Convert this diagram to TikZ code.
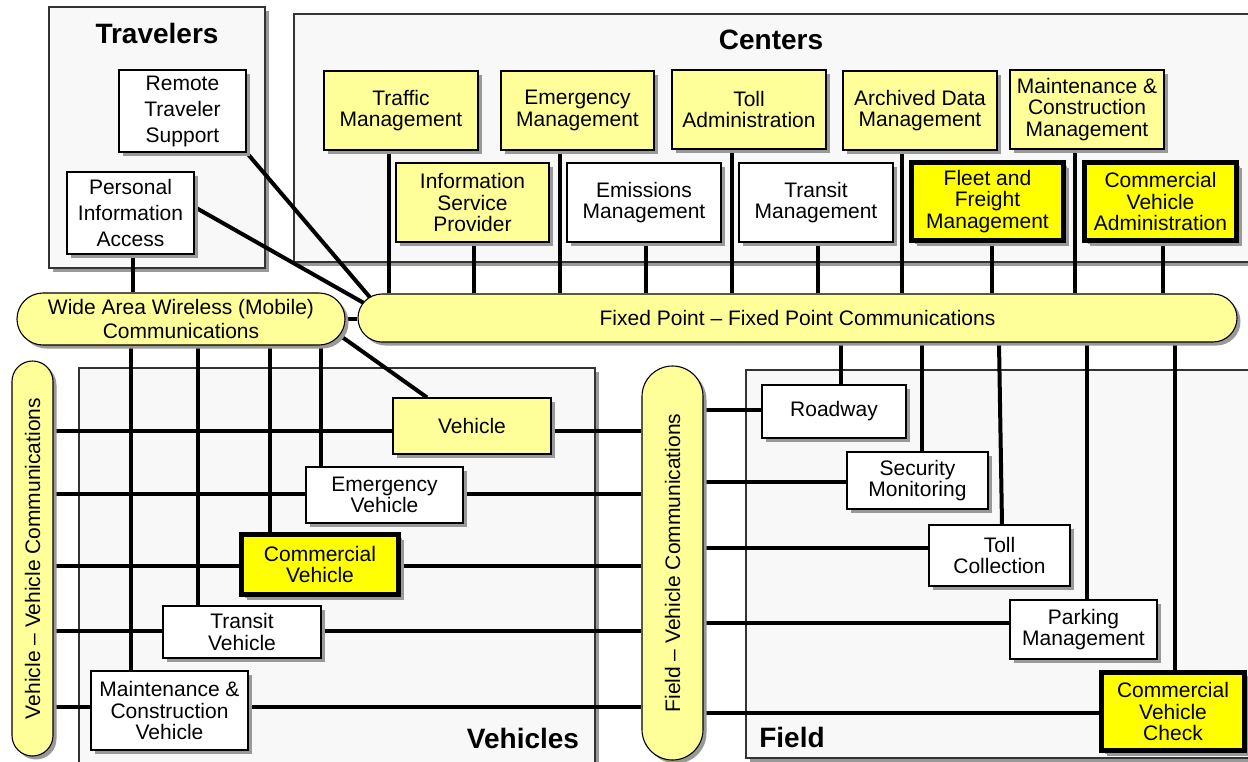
\documentclass[tikz,border=0pt]{standalone}
\usepackage{fontspec}
\setmainfont{Liberation Sans}
\usepackage{graphicx}
\usetikzlibrary{calc}
\definecolor{paley}{HTML}{FFFF99}
\definecolor{brighty}{HTML}{FFFF00}
\definecolor{grpfill}{HTML}{F8F8F8}
\definecolor{shd}{HTML}{999999}
\pgfdeclarelayer{grp}
\pgfdeclarelayer{lines}
\pgfsetlayers{grp,lines,main}
\tikzset{
  shadowed/.style={preaction={fill=shd, transform canvas={xshift=#1, yshift=-#1}}},
  shadowed/.default=3.5pt,
  grpbox/.style={draw=black!80, line width=1.1pt, fill=grpfill, shadowed=4pt},
  box/.style={rectangle, draw=black, line width=1.1pt, fill=white, align=center, inner sep=0pt, shadowed, font=\fontsize{21}{21.5}\selectfont},
  tbox/.style={box, font=\fontsize{21}{26}\selectfont},
  ybox/.style={box, fill=paley},
  hbox/.style={box, fill=brighty, line width=5pt, shadowed=5.5pt},
  pill/.style={rectangle, draw=black, line width=1.1pt, fill=paley, rounded corners=#1, align=center, inner sep=0pt, shadowed, font=\fontsize{21}{24.5}\selectfont},
  conn/.style={line width=4pt},
  grptitle/.style={font=\fontsize{28}{30}\selectfont\bfseries, inner sep=0pt},
}
\begin{document}
\begin{tikzpicture}[x=1pt,y=-1pt]
\useasboundingbox (0,0) rectangle (1248,761);
\clip (0,0) rectangle (1248,761);

% group boxes
\begin{pgfonlayer}{grp}
\fill[white] (0,0) rectangle (1248,761);
\path[grpbox] (49,7) rectangle (265,268);
\path[grpbox] (294,14) rectangle (1262,262);
\path[grpbox] (79,368) rectangle (595,790);
\path[grpbox] (746,370) rectangle (1262,758);
\end{pgfonlayer}

\node[grptitle] (ttrav) at (157,33) {Travelers};
\node[grptitle] (tcent) at (771,40) {Centers};
\node[grptitle] (tveh) at (523,738) {Vehicles};
\node[grptitle] (tfield) at (792,737) {Field};

% travelers
\node[tbox, minimum width=127pt, minimum height=82pt] (rts) at (182.5,111) {Remote\\Traveler\\Support};
\node[tbox, minimum width=127pt, minimum height=82pt] (pia) at (130.5,213) {Personal\\Information\\Access};

% centers row 1
\node[ybox, minimum width=154pt, minimum height=79pt] (traffic) at (401,110.5) {Traffic\\Management};
\node[ybox, minimum width=153pt, minimum height=79pt] (emerg) at (577.5,110.5) {Emergency\\Management};
\node[ybox, minimum width=154pt, minimum height=79pt] (tolla) at (749,109.5) {Toll\\Administration};
\node[ybox, minimum width=154pt, minimum height=79pt] (arch) at (920,110.5) {Archived Data\\Management};
\node[ybox, minimum width=154pt, minimum height=79pt] (mcm) at (1087,109.5) {Maintenance \&\\Construction\\Management};
% centers row 2
\node[ybox, minimum width=153pt, minimum height=79pt] (isp) at (472.5,202.5) {Information\\Service\\Provider};
\node[box, minimum width=154pt, minimum height=79pt] (emis) at (644,202.5) {Emissions\\Management};
\node[box, minimum width=154pt, minimum height=79pt] (trm) at (816,202.5) {Transit\\Management};
\node[hbox, minimum width=152pt, minimum height=78pt] (ffm) at (987.5,201.5) {Fleet and\\Freight\\Management};
\node[hbox, minimum width=152pt, minimum height=78pt] (cva) at (1160.5,201.5) {Commercial\\Vehicle\\Administration};

% buses
\node[pill=26pt, minimum width=328pt, minimum height=52pt] (waw) at (181,319) {Wide Area Wireless (Mobile)\\Communications};
\node[pill=24pt, minimum width=879pt, minimum height=48pt] (fp) at (797.5,318) {Fixed Point – Fixed Point Communications};
\node[pill=20.5pt, minimum width=41pt, minimum height=395pt] (vv) at (32.5,558.5) {\rotatebox{90}{Vehicle – Vehicle Communications}};
\node[pill=30.5pt, minimum width=61pt, minimum height=394pt] (fv) at (672.5,563) {\rotatebox{90}{Field – Vehicle Communications}};

% vehicles
\node[ybox, minimum width=158pt, minimum height=56pt] (veh) at (472,426) {Vehicle};
\node[box, minimum width=157pt, minimum height=56pt] (ev) at (384.5,495) {Emergency\\Vehicle};
\node[hbox, minimum width=157pt, minimum height=60pt] (cv) at (320,564.5) {Commercial\\Vehicle};
\node[box, minimum width=158pt, minimum height=52pt] (tv) at (242,632) {Transit\\Vehicle};
\node[box, minimum width=157pt, minimum height=79pt] (mcv) at (169.5,710.5) {Maintenance \&\\Construction\\Vehicle};

% field
\node[box, minimum width=144pt, minimum height=53pt] (road) at (834,411.5) {Roadway};
\node[box, minimum width=141pt, minimum height=57pt] (sec) at (917.5,480.5) {Security\\Monitoring};
\node[box, minimum width=141pt, minimum height=61pt] (tc) at (999.5,555.5) {Toll\\Collection};
\node[box, minimum width=147pt, minimum height=59pt] (park) at (1083.5,629.5) {Parking\\Management};
\node[hbox, minimum width=143pt, minimum height=78pt] (cvc) at (1173,711.5) {Commercial\\Vehicle\\Check};

\coordinate (fpin) at (385,315);
\coordinate (wawin) at (330,328.4);

\begin{pgfonlayer}{lines}
% centers to fixed point
\draw[conn] (traffic.south -| 389,0) -- (fp.north -| 389,0);
\draw[conn] (isp.south -| 474,0) -- (fp.north -| 474,0);
\draw[conn] (emerg.south -| 560,0) -- (fp.north -| 560,0);
\draw[conn] (emis.south -| 646,0) -- (fp.north -| 646,0);
\draw[conn] (tolla.south -| 732,0) -- (fp.north -| 732,0);
\draw[conn] (trm.south -| 818,0) -- (fp.north -| 818,0);
\draw[conn] (arch.south -| 902,0) -- (fp.north -| 902,0);
\draw[conn] (ffm.south -| 992,0) -- (fp.north -| 992,0);
\draw[conn] (mcm.south -| 1075,0) -- (fp.north -| 1075,0);
\draw[conn] (cva.south -| 1163,0) -- (fp.north -| 1163,0);
% travelers
\draw[conn] (rts.south east) -- (fpin);
\draw[conn] ([yshift=6pt]pia.east) -- (fpin);
\draw[conn] (pia.south -| 133,0) -- (waw.north -| 133,0);
\draw[conn] (waw.east) -- (waw.east -| fp.west);
% wide area to vehicles
\draw[conn] (wawin) -- (veh.north -| 427,0);
\draw[conn] (waw.south -| 131,0) -- (mcv.north -| 131,0);
\draw[conn] (waw.south -| 198,0) -- (tv.north -| 198,0);
\draw[conn] (waw.south -| 270,0) -- (cv.north -| 270,0);
\draw[conn] (waw.south -| 321,0) -- (ev.north -| 321,0);
% vehicle rows
\draw[conn] (vv.east |- 0,431) -- (fv.west |- 0,431);
\draw[conn] (vv.east |- 0,494) -- (fv.west |- 0,494);
\draw[conn] (vv.east |- 0,566) -- (fv.west |- 0,566);
\draw[conn] (vv.east |- 0,631) -- (fv.west |- 0,631);
\draw[conn] (vv.east |- 0,707) -- (fv.west |- 0,707);
% field rows
\draw[conn] (fv.east |- 0,410) -- (road.west |- 0,410);
\draw[conn] (fv.east |- 0,482) -- (sec.west |- 0,482);
\draw[conn] (fv.east |- 0,548) -- (tc.west |- 0,548);
\draw[conn] (fv.east |- 0,623) -- (park.west |- 0,623);
\draw[conn] (fv.east |- 0,713) -- (cvc.west |- 0,713);
% fixed point to field
\draw[conn] (fp.south -| 841,0) -- (road.north -| 841,0);
\draw[conn] (fp.south -| 922,0) -- (sec.north -| 922,0);
\draw[conn] (fp.south -| 999,0) -- (tc.north -| 1002,0);
\draw[conn] (fp.south -| 1087,0) -- (park.north -| 1087,0);
\draw[conn] (fp.south -| 1175,0) -- (cvc.north -| 1175,0);
\end{pgfonlayer}
\end{tikzpicture}
\end{document}
